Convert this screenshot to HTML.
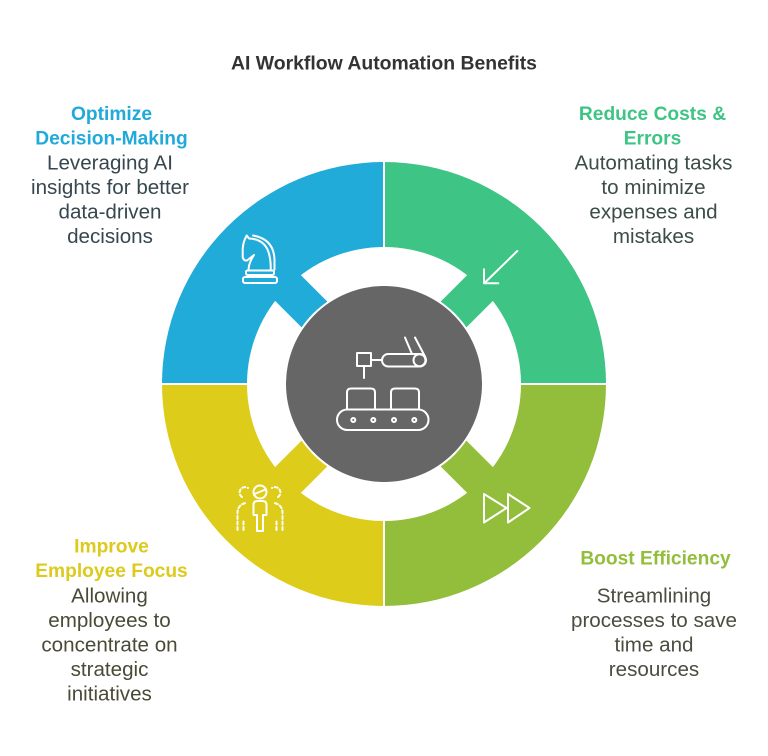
<!DOCTYPE html>
<html>
<head>
<meta charset="utf-8">
<style>
  html,body{margin:0;padding:0;background:#ffffff;}
  body{width:768px;height:756px;overflow:hidden;}
  svg{display:block;}
  .t{font-family:"Liberation Sans",Arial,sans-serif;text-anchor:middle;}
  .h{font-weight:bold;font-size:19.2px;}
  .b{font-size:20.6px;}
</style>
</head>
<body>
<svg width="768" height="756" viewBox="0 0 768 756" xmlns="http://www.w3.org/2000/svg">
  <rect width="768" height="756" fill="#ffffff"/>

  <!-- Title -->
  <text class="t" x="384" y="69.5" font-size="19.4px" font-weight="bold" fill="#333333">AI Workflow Automation Benefits</text>

  <!-- Quadrants -->
  <path d="M384,384 L162,384 A222,222 0 0 1 384,162 Z" fill="#21ABD9"/>
  <path d="M384,384 L384,162 A222,222 0 0 1 606,384 Z" fill="#3EC485"/>
  <path d="M384,384 L606,384 A222,222 0 0 1 384,606 Z" fill="#92BE3B"/>
  <path d="M384,384 L384,606 A222,222 0 0 1 162,384 Z" fill="#DECC1A"/>

  <!-- separators -->
  <line x1="384" y1="158" x2="384" y2="610" stroke="#ffffff" stroke-width="2"/>
  <line x1="158" y1="384" x2="610" y2="384" stroke="#ffffff" stroke-width="2"/>

  <!-- inner white ring -->
  <circle cx="384" cy="384" r="137" fill="#ffffff"/>

  <!-- tabs -->
  <rect x="365.8" y="239" width="36.4" height="55" fill="#21ABD9" transform="rotate(-45 384 384)"/>
  <rect x="365.8" y="239" width="36.4" height="55" fill="#3EC485" transform="rotate(45 384 384)"/>
  <rect x="365.8" y="239" width="36.4" height="55" fill="#92BE3B" transform="rotate(135 384 384)"/>
  <rect x="365.8" y="239" width="36.4" height="55" fill="#DECC1A" transform="rotate(-135 384 384)"/>

  <!-- center -->
  <circle cx="384" cy="384" r="100" fill="#ffffff"/>
  <circle cx="384" cy="384" r="98" fill="#666666"/>

  <!-- center icon -->
  <g fill="none" stroke="#ffffff" stroke-width="2" stroke-linecap="round" stroke-linejoin="round">
    <rect x="357" y="353" width="14" height="13"/>
    <line x1="364" y1="366" x2="364" y2="378"/>
    <line x1="371" y1="360" x2="382" y2="360"/>
    <rect x="382" y="354" width="44" height="12.5" rx="6.25"/>
    <circle cx="419.5" cy="360.2" r="6"/>
    <line x1="405" y1="337.5" x2="412" y2="354"/>
    <line x1="415" y1="337.5" x2="425" y2="356.5"/>
    <path d="M347,409.5 V392.5 Q347,388.5 351,388.5 H371 Q375,388.5 375,392.5 V409.5"/>
    <path d="M391,409.5 V392.5 Q391,388.5 395,388.5 H415 Q419,388.5 419,392.5 V409.5"/>
    <rect x="337" y="409.5" width="91.5" height="20.5" rx="10.25"/>
    <circle cx="353.3" cy="420" r="2"/>
    <circle cx="373.3" cy="420" r="2"/>
    <circle cx="394" cy="420" r="2"/>
    <circle cx="414.3" cy="420" r="2"/>
  </g>

  <!-- knight icon -->
  <g fill="none" stroke="#ffffff" stroke-width="2" stroke-linecap="round" stroke-linejoin="round">
    <path d="M248.5,269.5 Q249,262 254,255 L247,260.5 Q243.5,261 242.7,257 L242.7,249 Q243,242 246.7,235.5 L249,238.5 Q264,239 268.5,252 Q271,260 270.7,269.5"/>
    <path d="M253,235.5 Q274,239 274.5,260 L274.5,269.5"/>
    <rect x="246" y="270.5" width="28" height="4.5" rx="1.5"/>
    <rect x="243" y="277" width="34" height="6" rx="2"/>
  </g>

  <!-- arrow icon -->
  <g fill="none" stroke="#ffffff" stroke-width="2" stroke-linecap="round" stroke-linejoin="round">
    <line x1="517.3" y1="251" x2="484.5" y2="283"/>
    <polyline points="484,269.3 484,283.3 498.3,283.3"/>
  </g>

  <!-- fast-forward icon -->
  <g fill="none" stroke="#ffffff" stroke-width="2" stroke-linejoin="round">
    <path d="M484,494 L506.5,508 L484,522.5 Z"/>
    <path d="M508,494 L529.5,508 L508,522.5 Z"/>
  </g>

  <!-- people icon -->
  <g fill="none" stroke="#ffffff" stroke-width="2" stroke-linecap="round" stroke-linejoin="round">
    <circle cx="260" cy="492" r="6.5"/>
    <line x1="254.5" y1="494" x2="265.5" y2="489.5"/>
    <path d="M257,531 V515 H253.5 V505 Q253.5,501 257.5,501 H262.5 Q266.5,501 266.5,505 V515 H263 V531 Z"/>
    <g stroke-dasharray="3 2.5">
      <path d="M242,497 A5,5 0 0 1 248,488"/>
      <path d="M278,497 A5,5 0 0 0 272,488"/>
      <path d="M237.5,530 V513 Q237.5,505 245.5,503"/>
      <path d="M282.5,530 V513 Q282.5,505 274.5,503"/>
      <path d="M243.5,530 V519"/>
      <path d="M276.5,530 V519"/>
    </g>
  </g>

  <!-- Top-left text -->
  <g class="t">
    <text class="h" x="111.5" y="120" fill="#21A9DB">Optimize</text>
    <text class="h" x="111.5" y="144.5" fill="#21A9DB">Decision-Making</text>
    <text class="b" x="110" y="169.5" fill="#37474F">Leveraging AI</text>
    <text class="b" x="110" y="194" fill="#37474F">insights for better</text>
    <text class="b" x="110" y="218.5" fill="#37474F">data-driven</text>
    <text class="b" x="110" y="243" fill="#37474F">decisions</text>
  </g>

  <!-- Top-right text -->
  <g class="t">
    <text class="h" x="652.5" y="120" fill="#3EC485">Reduce Costs &amp;</text>
    <text class="h" x="652.5" y="144.5" fill="#3EC485">Errors</text>
    <text class="b" x="653.5" y="169.5" fill="#3B4D46">Automating tasks</text>
    <text class="b" x="653.5" y="194" fill="#3B4D46">to minimize</text>
    <text class="b" x="653.5" y="218.5" fill="#3B4D46">expenses and</text>
    <text class="b" x="653.5" y="243" fill="#3B4D46">mistakes</text>
  </g>

  <!-- Bottom-left text -->
  <g class="t">
    <text class="h" x="111.5" y="552.3" fill="#DCCA1C">Improve</text>
    <text class="h" x="111.5" y="576.8" fill="#DCCA1C">Employee Focus</text>
    <text class="b" x="109.5" y="602.6" fill="#4A4A37">Allowing</text>
    <text class="b" x="109.5" y="627.1" fill="#4A4A37">employees to</text>
    <text class="b" x="109.5" y="651.6" fill="#4A4A37">concentrate on</text>
    <text class="b" x="109.5" y="676.1" fill="#4A4A37">strategic</text>
    <text class="b" x="109.5" y="700.6" fill="#4A4A37">initiatives</text>
  </g>

  <!-- Bottom-right text -->
  <g class="t">
    <text class="h" x="655.5" y="564.6" fill="#92BE3B">Boost Efficiency</text>
    <text class="b" x="654" y="602.6" fill="#4A4D3F">Streamlining</text>
    <text class="b" x="654" y="627.1" fill="#4A4D3F">processes to save</text>
    <text class="b" x="654" y="651.6" fill="#4A4D3F">time and</text>
    <text class="b" x="654" y="676.1" fill="#4A4D3F">resources</text>
  </g>
</svg>
</body>
</html>
